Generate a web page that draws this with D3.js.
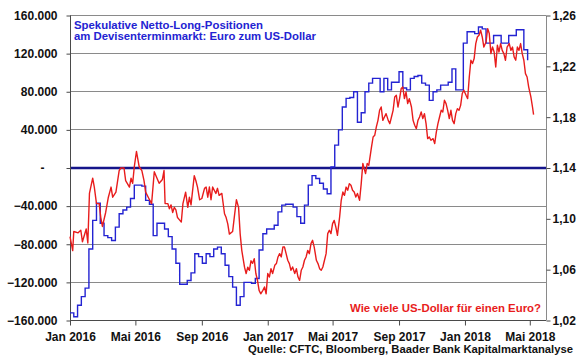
<!DOCTYPE html>
<html>
<head>
<meta charset="utf-8">
<script src="https://cdn.jsdelivr.net/npm/d3@7"></script>
<style>
  body { margin: 0; background: #fff; }
  svg { display: block; font-family: "Liberation Sans", Arial, sans-serif; font-weight: bold; }
</style>
</head>
<body>
<div class="chart"></div>
<script>
// CFTC: spekulative Netto-Long-Positionen EUR (Tsd. Kontrakte), wöchentlich ab 1.1.2016
const positionStart = "2016-01-01"
const positions = [
  -152, -156, -144, -135, -126, -85, -55, -37, -58, -71,
  -73, -76, -62, -48, -44, -41, -32, -18, -18, -19,
  -34, -38, -71, -58, -58, -64, -72, -85, -100, -122,
  -122, -118, -110, -90, -93, -100, -90, -93, -85, -83,
  -90, -102, -114, -125, -144, -135, -120, -120, -121, -116,
  -86, -69, -64, -64, -60, -46, -39, -38, -38, -41,
  -51, -58, -39, -18, -8, -11, -16, -22, -27, 1,
  24, 40, 64, 73, 74, 80, 48, 58, 80, 89,
  94, 94, 80, 94, 82, 90, 90, 101, 84, 82,
  94, 96, 97, 89, 87, 71, 80, 82, 87, 87,
  90, 104, 82, 82, 131, 143, 143, 141, 148, 146,
  131, 131, 139, 139, 131, 131, 139, 139, 145, 145,
  124, 113
]

// EUR/USD, Tage seit 1.1.2016
const fxDay = [
  0, 5, 7, 15, 20, 23, 30, 33, 36, 42, 45, 49, 54, 57, 60, 66, 71, 76, 79, 85,
  91, 94, 100, 103, 110, 113, 116, 119, 123, 128, 133, 137, 140, 146, 151, 156, 162, 165, 171, 174,
  176, 181, 184, 187, 190, 193, 196, 199, 203, 206, 209, 214, 218, 221, 224, 230, 233, 236, 240, 244,
  249, 252, 255, 258, 261, 264, 267, 270, 273, 276, 281, 286, 289, 292, 295, 301, 304, 308, 312, 315,
  318, 323, 326, 329, 332, 335, 338, 341, 344, 347, 350, 353, 357, 360, 363, 366, 369, 372, 375, 379,
  382, 385, 388, 391, 394, 397, 400, 403, 406, 409, 412, 416, 419, 422, 425, 428, 431, 434, 437, 440,
  443, 446, 449, 452, 456, 459, 462, 465, 468, 471, 474, 477, 480, 483, 486, 489, 492, 495, 499, 502,
  505, 508, 511, 514, 517, 520, 523, 526, 529, 532, 536, 539, 542, 547, 550, 553, 558, 561, 564, 567,
  570, 573, 576, 579, 582, 585, 589, 592, 595, 598, 601, 604, 607, 610, 613, 616, 619, 622, 625, 628,
  632, 635, 638, 641, 644, 647, 650, 653, 656, 659, 662, 665, 668, 672, 675, 678, 681, 684, 687, 690,
  693, 696, 699, 702, 705, 708, 711, 714, 717, 720, 723, 726, 729, 733, 736, 739, 742, 745, 748, 751,
  754, 757, 760, 763, 766, 770, 773, 776, 779, 782, 785, 788, 791, 794, 797, 800, 803, 806, 809, 813,
  816, 819, 822, 825, 828, 831, 834, 837, 840, 843, 846, 849, 853, 856, 858
]
const fxRate = [
  1.086, 1.075, 1.090, 1.089, 1.091, 1.082, 1.092, 1.081, 1.120, 1.132, 1.125, 1.112, 1.112, 1.101, 1.094, 1.105, 1.117, 1.125, 1.117, 1.121,
  1.138, 1.140, 1.140, 1.130, 1.125, 1.132, 1.128, 1.141, 1.153, 1.141, 1.138, 1.130, 1.121, 1.116, 1.112, 1.137, 1.131, 1.128, 1.131, 1.138,
  1.112, 1.112, 1.108, 1.111, 1.105, 1.109, 1.107, 1.101, 1.099, 1.0975, 1.112, 1.121, 1.109, 1.117, 1.111, 1.134, 1.130, 1.125, 1.115, 1.116,
  1.124, 1.125, 1.117, 1.125, 1.115, 1.125, 1.1225, 1.120, 1.124, 1.1185, 1.120, 1.104, 1.101, 1.096, 1.088, 1.090, 1.101, 1.115, 1.109, 1.088,
  1.075, 1.062, 1.057, 1.062, 1.0595, 1.067, 1.065, 1.0687, 1.057, 1.0516, 1.0437, 1.041, 1.0437, 1.0464, 1.041, 1.057, 1.0542, 1.0608, 1.057, 1.0634,
  1.0648, 1.070, 1.0726, 1.070, 1.0778, 1.0778, 1.0726, 1.0674, 1.0648, 1.0595, 1.0621, 1.057, 1.0608, 1.0542, 1.0516, 1.0595, 1.0621, 1.0674, 1.070, 1.0752,
  1.0726, 1.0805, 1.0831, 1.0778, 1.0674, 1.0648, 1.0608, 1.0595, 1.0621, 1.0674, 1.0726, 1.0884, 1.091, 1.0884, 1.0962, 1.0988, 1.0936, 1.087, 1.1014, 1.1146,
  1.1211, 1.1185, 1.125, 1.1225, 1.1277, 1.1264, 1.1225, 1.1211, 1.1172, 1.120, 1.1146, 1.1277, 1.1435, 1.1356, 1.1435, 1.1421, 1.1565, 1.1644, 1.1657, 1.1723,
  1.1775, 1.1854, 1.188, 1.1775, 1.1801, 1.1828, 1.1775, 1.1749, 1.1801, 1.1854, 1.1959, 1.1972, 1.188, 1.1946, 1.2025, 1.2037, 1.1946, 1.1998, 1.1907, 1.1946,
  1.188, 1.1775, 1.1736, 1.171, 1.1775, 1.1801, 1.1841, 1.1789, 1.1828, 1.1749, 1.1631, 1.1644, 1.1618, 1.1631, 1.1592, 1.1683, 1.1749, 1.1801, 1.1854, 1.1841,
  1.1933, 1.1907, 1.1854, 1.1789, 1.1854, 1.1775, 1.1749, 1.1828, 1.1867, 1.1854, 1.1893, 1.1986, 1.2012, 1.1972, 1.1946, 1.2116, 1.2248, 1.2222, 1.2261, 1.2379,
  1.2431, 1.2444, 1.2484, 1.2431, 1.2352, 1.2392, 1.2497, 1.2458, 1.230, 1.2352, 1.2313, 1.2195, 1.2366, 1.2313, 1.2379, 1.2326, 1.230, 1.2248, 1.2352, 1.2379,
  1.2326, 1.2352, 1.2274, 1.2248, 1.2352, 1.2326, 1.2379, 1.230, 1.2248, 1.2143, 1.2116, 1.2037, 1.1959, 1.188, 1.182
]

const leftTicks = [-160, -120, -80, -40, 0, 40, 80, 120, 160]
const rightTicks = [1.02, 1.06, 1.10, 1.14, 1.18, 1.22, 1.26]
const xTickDates = ["2016-01-01", "2016-05-01", "2016-09-01", "2017-01-01", "2017-05-01", "2017-09-01", "2018-01-01", "2018-05-01"]
const xTickLabels = ["Jan 2016", "Mai 2016", "Sep 2016", "Jan 2017", "Mai 2017", "Sep 2017", "Jan 2018", "Mai 2018"]

;(function() {
  const width = 580
  const height = 359
  const plot = { left: 70, right: 546, top: 15.5, bottom: 320.5 }
  const blue = "#2323d2"
  const red = "#e81c1c"
  const navy = "#15158a"
  const grid = "#8a8a8a"

  const parse = d3.timeParse("%Y-%m-%d")
  const start = parse(positionStart)
  const de = d3.formatLocale({ decimal: ",", thousands: ".", grouping: [3], currency: ["", " €"] })
  const fmtLeft = de.format(",.0f")
  const fmtRight = de.format(".2f")

  const $svg = d3
    .select(".chart")
    .append("svg")
    .attr("width", width)
    .attr("height", height)

  const x = d3
    .scaleTime()
    .domain([parse("2016-01-01"), parse("2018-05-31")])
    .range([plot.left, plot.right])
  const yLeft = d3.scaleLinear().domain([-160, 160]).range([plot.bottom, plot.top])
  const yRight = d3.scaleLinear().domain([1.02, 1.26]).range([plot.bottom, plot.top])

  const crisp = v => Math.round(v - 0.5) + 0.5

  // gridlines
  $svg
    .append("g")
    .selectAll("line")
    .data(leftTicks.filter(d => d !== 0 && d !== -160))
    .join("line")
    .attr("x1", plot.left)
    .attr("x2", plot.right)
    .attr("y1", d => crisp(yLeft(d)))
    .attr("y2", d => crisp(yLeft(d)))
    .attr("stroke", grid)
    .attr("stroke-width", 1)

  // right frame
  $svg
    .append("line")
    .attr("x1", plot.right + 0.5)
    .attr("x2", plot.right + 0.5)
    .attr("y1", plot.top)
    .attr("y2", plot.bottom)
    .attr("stroke", grid)

  // zero line
  $svg
    .append("line")
    .attr("x1", plot.left)
    .attr("x2", plot.right)
    .attr("y1", yLeft(0))
    .attr("y2", yLeft(0))
    .attr("stroke", navy)
    .attr("stroke-width", 2.5)

  const $yLeft = $svg
    .append("g")
    .attr("transform", `translate(${plot.left + 0.5}, 0)`)
    .call(
      d3
        .axisLeft(yLeft)
        .tickValues(leftTicks)
        .tickSize(4)
        .tickPadding(9)
        .tickFormat(d => (d === 0 ? "-" : fmtLeft(d * 1000)))
    )
  $yLeft.select(".domain").attr("stroke", "#4a4a4a").attr("d", `M0,${plot.top}V${plot.bottom}`)
  $yLeft.selectAll(".tick line").attr("stroke", "#4a4a4a")
  $yLeft
    .selectAll(".tick text")
    .attr("font-size", 12)
    .attr("font-family", null)
    .attr("fill", "#111")
    .attr("dx", d => (d === 0 ? -13 : 0))

  const $yRight = $svg
    .append("g")
    .attr("transform", `translate(${plot.right + 0.5}, 0)`)
    .call(
      d3
        .axisRight(yRight)
        .tickValues(rightTicks)
        .tickSize(4)
        .tickPadding(2)
        .tickFormat(fmtRight)
    )
  $yRight.select(".domain").remove()
  $yRight.selectAll(".tick line").attr("stroke", "#4a4a4a")
  $yRight
    .selectAll(".tick text")
    .attr("font-size", 12)
    .attr("font-family", null)
    .attr("fill", "#111")

  const tickDates = xTickDates.map(parse)
  const $xAxis = $svg
    .append("g")
    .attr("transform", `translate(0, ${plot.bottom})`)
    .call(
      d3
        .axisBottom(x)
        .tickValues(tickDates)
        .tickSize(5)
        .tickPadding(7)
        .tickFormat((d, i) => xTickLabels[i])
    )
  $xAxis.select(".domain").attr("stroke", "#4a4a4a").attr("d", `M${plot.left},0H${plot.right}`)
  $xAxis.selectAll(".tick line").attr("stroke", "#4a4a4a")
  $xAxis
    .selectAll(".tick text")
    .attr("font-size", 12)
    .attr("font-family", null)
    .attr("fill", "#111")

  // Netto-Positionen (Stufenlinie)
  const blueData = positions.map((v, i) => ({ date: d3.timeDay.offset(start, i * 7), value: v }))
  const blueLine = d3
    .line()
    .x(d => x(d.date))
    .y(d => yLeft(d.value))
    .curve(d3.curveStepAfter)
  $svg
    .append("path")
    .datum(blueData)
    .attr("d", blueLine)
    .attr("fill", "none")
    .attr("stroke", blue)
    .attr("stroke-width", 1.4)

  // EUR/USD
  const redData = fxDay.map((d, i) => ({ date: d3.timeDay.offset(start, d), value: fxRate[i] }))
  const redLine = d3
    .line()
    .x(d => x(d.date))
    .y(d => yRight(d.value))
  $svg
    .append("path")
    .datum(redData)
    .attr("d", redLine)
    .attr("fill", "none")
    .attr("stroke", red)
    .attr("stroke-width", 1.4)
    .attr("stroke-linejoin", "round")

  // texts
  const $title = $svg.append("g").attr("fill", blue).attr("font-size", 11)
  $title
    .append("text")
    .attr("x", 74)
    .attr("y", 28.5)
    .attr("textLength", 189)
    .attr("lengthAdjust", "spacingAndGlyphs")
    .text("Spekulative Netto-Long-Positionen")
  $title
    .append("text")
    .attr("x", 74)
    .attr("y", 39.5)
    .attr("textLength", 242)
    .attr("lengthAdjust", "spacingAndGlyphs")
    .text("am Devisenterminmarkt: Euro zum US-Dollar")

  $svg
    .append("text")
    .attr("x", 350)
    .attr("y", 311.5)
    .attr("font-size", 11.5)
    .attr("fill", red)
    .attr("textLength", 191)
    .attr("lengthAdjust", "spacingAndGlyphs")
    .text("Wie viele US-Dollar für einen Euro?")

  $svg
    .append("text")
    .attr("x", 248)
    .attr("y", 353)
    .attr("font-size", 11)
    .attr("fill", "#111")
    .attr("textLength", 325)
    .attr("lengthAdjust", "spacingAndGlyphs")
    .text("Quelle: CFTC, Bloomberg, Baader Bank Kapitalmarktanalyse")
})()
</script>
</body>
</html>
